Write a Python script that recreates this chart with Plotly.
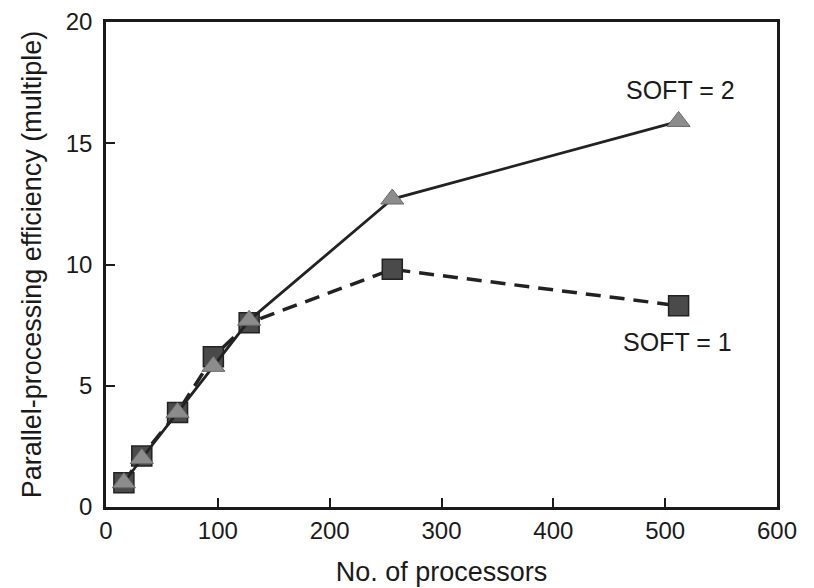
import plotly.graph_objects as go

# processors (x) and efficiency values
processors = [16, 32, 64, 96, 128, 256, 512]
soft1_eff = [1.0, 2.1, 3.9, 6.2, 7.6, 9.8, 8.3]
soft2_eff = [1.0, 2.0, 3.9, 5.8, 7.7, 12.7, 15.9]

x_ticks = [0, 100, 200, 300, 400, 500, 600]
y_ticks = [0, 5, 10, 15, 20]

FONT = "Liberation Sans, Arial, sans-serif"
INK = "#1a1a1a"

fig = go.Figure()

fig.add_trace(go.Scatter(
    x=processors, y=soft1_eff, name="SOFT = 1",
    mode="lines+markers",
    line=dict(color="#222", width=3.5, dash="15px,9px"),
    marker=dict(symbol="square", size=20, color="#4a4a4a",
                line=dict(color="#222", width=1.5)),
))
fig.add_trace(go.Scatter(
    x=processors, y=soft2_eff, name="SOFT = 2",
    mode="lines+markers",
    line=dict(color="#222", width=2.8),
    marker=dict(symbol="triangle-up", size=20, color="#8c8c8c",
                line=dict(color="#6a6a6a", width=1)),
))

fig.add_annotation(x=514, y=17.2, text="SOFT = 2", showarrow=False,
                   font=dict(size=25, color=INK, family=FONT))
fig.add_annotation(x=511, y=6.8, text="SOFT = 1", showarrow=False,
                   font=dict(size=25, color=INK, family=FONT))

axis_common = dict(
    showgrid=False, zeroline=False, automargin=False,
    showline=True, linecolor=INK, linewidth=2.5, mirror=True,
    ticks="inside", ticklen=9, tickwidth=2, tickcolor=INK,
    tickfont=dict(size=24, color=INK, family=FONT),
)

# page has an 8px body margin, so the margins are shifted to compensate
fig.update_layout(
    width=814, height=588,
    margin=dict(l=98, r=45, t=14, b=89),
    plot_bgcolor="white", paper_bgcolor="white",
    showlegend=False,
    font=dict(family=FONT, color=INK),
    xaxis=dict(
        range=[0, 600], tickvals=x_ticks,
        title=dict(text="No. of processors", font=dict(size=27), standoff=20),
        **axis_common,
    ),
    yaxis=dict(
        range=[0, 20], tickvals=y_ticks, ticklabelstandoff=6,
        title=dict(text="Parallel-processing efficiency (multiple)",
                   font=dict(size=27), standoff=17),
        **axis_common,
    ),
)

fig.write_html("out.html")
